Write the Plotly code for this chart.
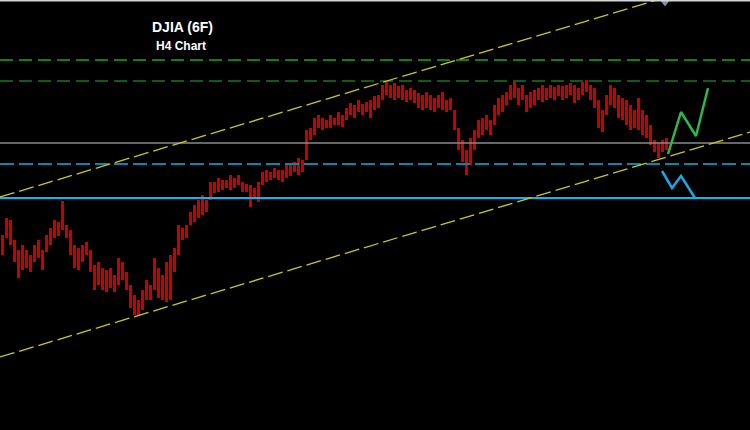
import plotly.graph_objects as go

# Bar positions (chart x units) and high/low levels (chart y units, 0 at top)
bar_x = list(range(2, 667, 4))
bar_high = [235, 218, 220, 240, 250, 245, 250, 255, 245, 240, 250, 235, 228, 220, 222, 201, 225, 230, 245, 248,
            245, 242, 250, 265, 262, 268, 270, 268, 275, 258, 262, 272, 285, 295, 300, 290, 280, 285, 258, 268,
            275, 262, 255, 248, 225, 228, 225, 212, 205, 200, 195, 200, 182, 182, 178, 180, 180, 175, 178, 175,
            182, 184, 185, 188, 182, 172, 170, 172, 168, 170, 170, 165, 165, 162, 158, 160, 130, 128, 118, 115,
            118, 120, 115, 118, 112, 115, 108, 103, 105, 100, 104, 102, 100, 96, 95, 85, 82, 85, 83, 86,
            85, 90, 88, 90, 93, 95, 92, 95, 98, 95, 92, 100, 98, 110, 128, 140, 150, 138, 130, 120,
            118, 115, 120, 105, 98, 95, 92, 85, 82, 88, 85, 95, 92, 90, 88, 85, 88, 85, 87, 85,
            86, 85, 83, 85, 88, 82, 80, 85, 88, 100, 110, 95, 85, 88, 95, 98, 100, 105, 110, 98,
            110, 115, 125, 140, 143, 140, 138]
bar_low = [255, 238, 245, 262, 278, 270, 268, 272, 262, 258, 270, 252, 245, 238, 236, 230, 238, 255, 268, 270,
           262, 255, 272, 290, 285, 290, 292, 288, 292, 285, 280, 290, 308, 315, 316, 310, 300, 300, 290, 298,
           300, 302, 300, 272, 255, 240, 238, 225, 222, 218, 215, 212, 200, 193, 192, 190, 188, 190, 188, 185,
           192, 192, 207, 198, 202, 185, 182, 180, 178, 180, 182, 178, 176, 172, 175, 172, 160, 140, 135, 128,
           130, 128, 128, 125, 125, 127, 120, 115, 118, 112, 115, 112, 118, 110, 108, 100, 95, 98, 100, 98,
           100, 102, 100, 103, 108, 110, 108, 110, 112, 108, 110, 112, 110, 130, 150, 162, 175, 165, 150, 138,
           135, 130, 135, 125, 115, 112, 105, 100, 98, 105, 100, 112, 108, 105, 100, 102, 100, 98, 100, 96,
           100, 98, 95, 103, 100, 95, 92, 100, 108, 128, 132, 115, 105, 108, 118, 120, 125, 130, 128, 130,
           135, 138, 145, 152, 158, 152, 150]

# Horizontal levels
level_y = [60, 81, 143, 164, 198]
level_color = ["#22a322", "#177a17", "#8a8a8a", "#1a7fa3", "#1ab0ea"]
level_dash = ["13px,6px", "13px,6px", "solid", "14px,5px", "solid"]
level_width = [1.5, 1.5, 1.5, 2, 2]

# Channel lines
channel_x = [0, 750]
channel_upper = [197, -28]
channel_lower = [357, 132]

# Projection zigzags
green_x = [668, 681, 696, 708]
green_y = [154, 112, 136, 88]
blue_x = [662, 672, 681, 695]
blue_y = [171, 188, 176, 198]

fig = go.Figure()

for y, c, d, w in zip(level_y, level_color, level_dash, level_width):
    fig.add_trace(go.Scatter(x=[0, 750], y=[y, y], mode="lines",
                             line=dict(color=c, dash=d, width=w), hoverinfo="skip"))

fig.add_trace(go.Scatter(x=channel_x, y=channel_upper, mode="lines",
                         line=dict(color="#c8c828", dash="15px,5px", width=1.3), hoverinfo="skip"))
fig.add_trace(go.Scatter(x=channel_x, y=channel_lower, mode="lines",
                         line=dict(color="#c8c828", dash="15px,5px", width=1.3), hoverinfo="skip"))

fig.add_trace(go.Bar(x=bar_x, base=bar_high, y=[l - h for h, l in zip(bar_high, bar_low)],
                     width=3, marker=dict(color="#c80000", line=dict(width=0))))

fig.add_trace(go.Scatter(x=green_x, y=green_y, mode="lines",
                         line=dict(color="#2cb84a", width=2.5)))
fig.add_trace(go.Scatter(x=blue_x, y=blue_y, mode="lines",
                         line=dict(color="#1aa5e6", width=2.5)))

fig.add_trace(go.Scatter(x=[665], y=[1.5], mode="markers",
                         marker=dict(symbol="triangle-down", size=10, color="#7f8fa0")))

fig.add_shape(type="line", xref="paper", yref="paper", x0=0, x1=1, y0=1, y1=1,
              line=dict(color="#d6d6d6", width=3))

fig.add_annotation(x=182, y=27, xref="x", yref="y", text="<b>DJIA (6F)</b>", showarrow=False,
                   font=dict(family="Liberation Sans, Arial", size=14, color="white"))
fig.add_annotation(x=181, y=46, xref="x", yref="y", text="<b>H4 Chart</b>", showarrow=False,
                   font=dict(family="Liberation Sans, Arial", size=12, color="white"))

fig.update_layout(width=750, height=430, margin=dict(l=0, r=0, t=0, b=0),
                  paper_bgcolor="black", plot_bgcolor="black", showlegend=False, bargap=0)
fig.update_xaxes(range=[0, 750], visible=False, showgrid=False, zeroline=False)
fig.update_yaxes(range=[430, 0], visible=False, showgrid=False, zeroline=False)

fig.write_html("out.html", config={"displayModeBar": False},
               post_script="document.body.style.margin='0';document.body.style.background='black';"
                           "document.body.style.overflow='hidden';")
